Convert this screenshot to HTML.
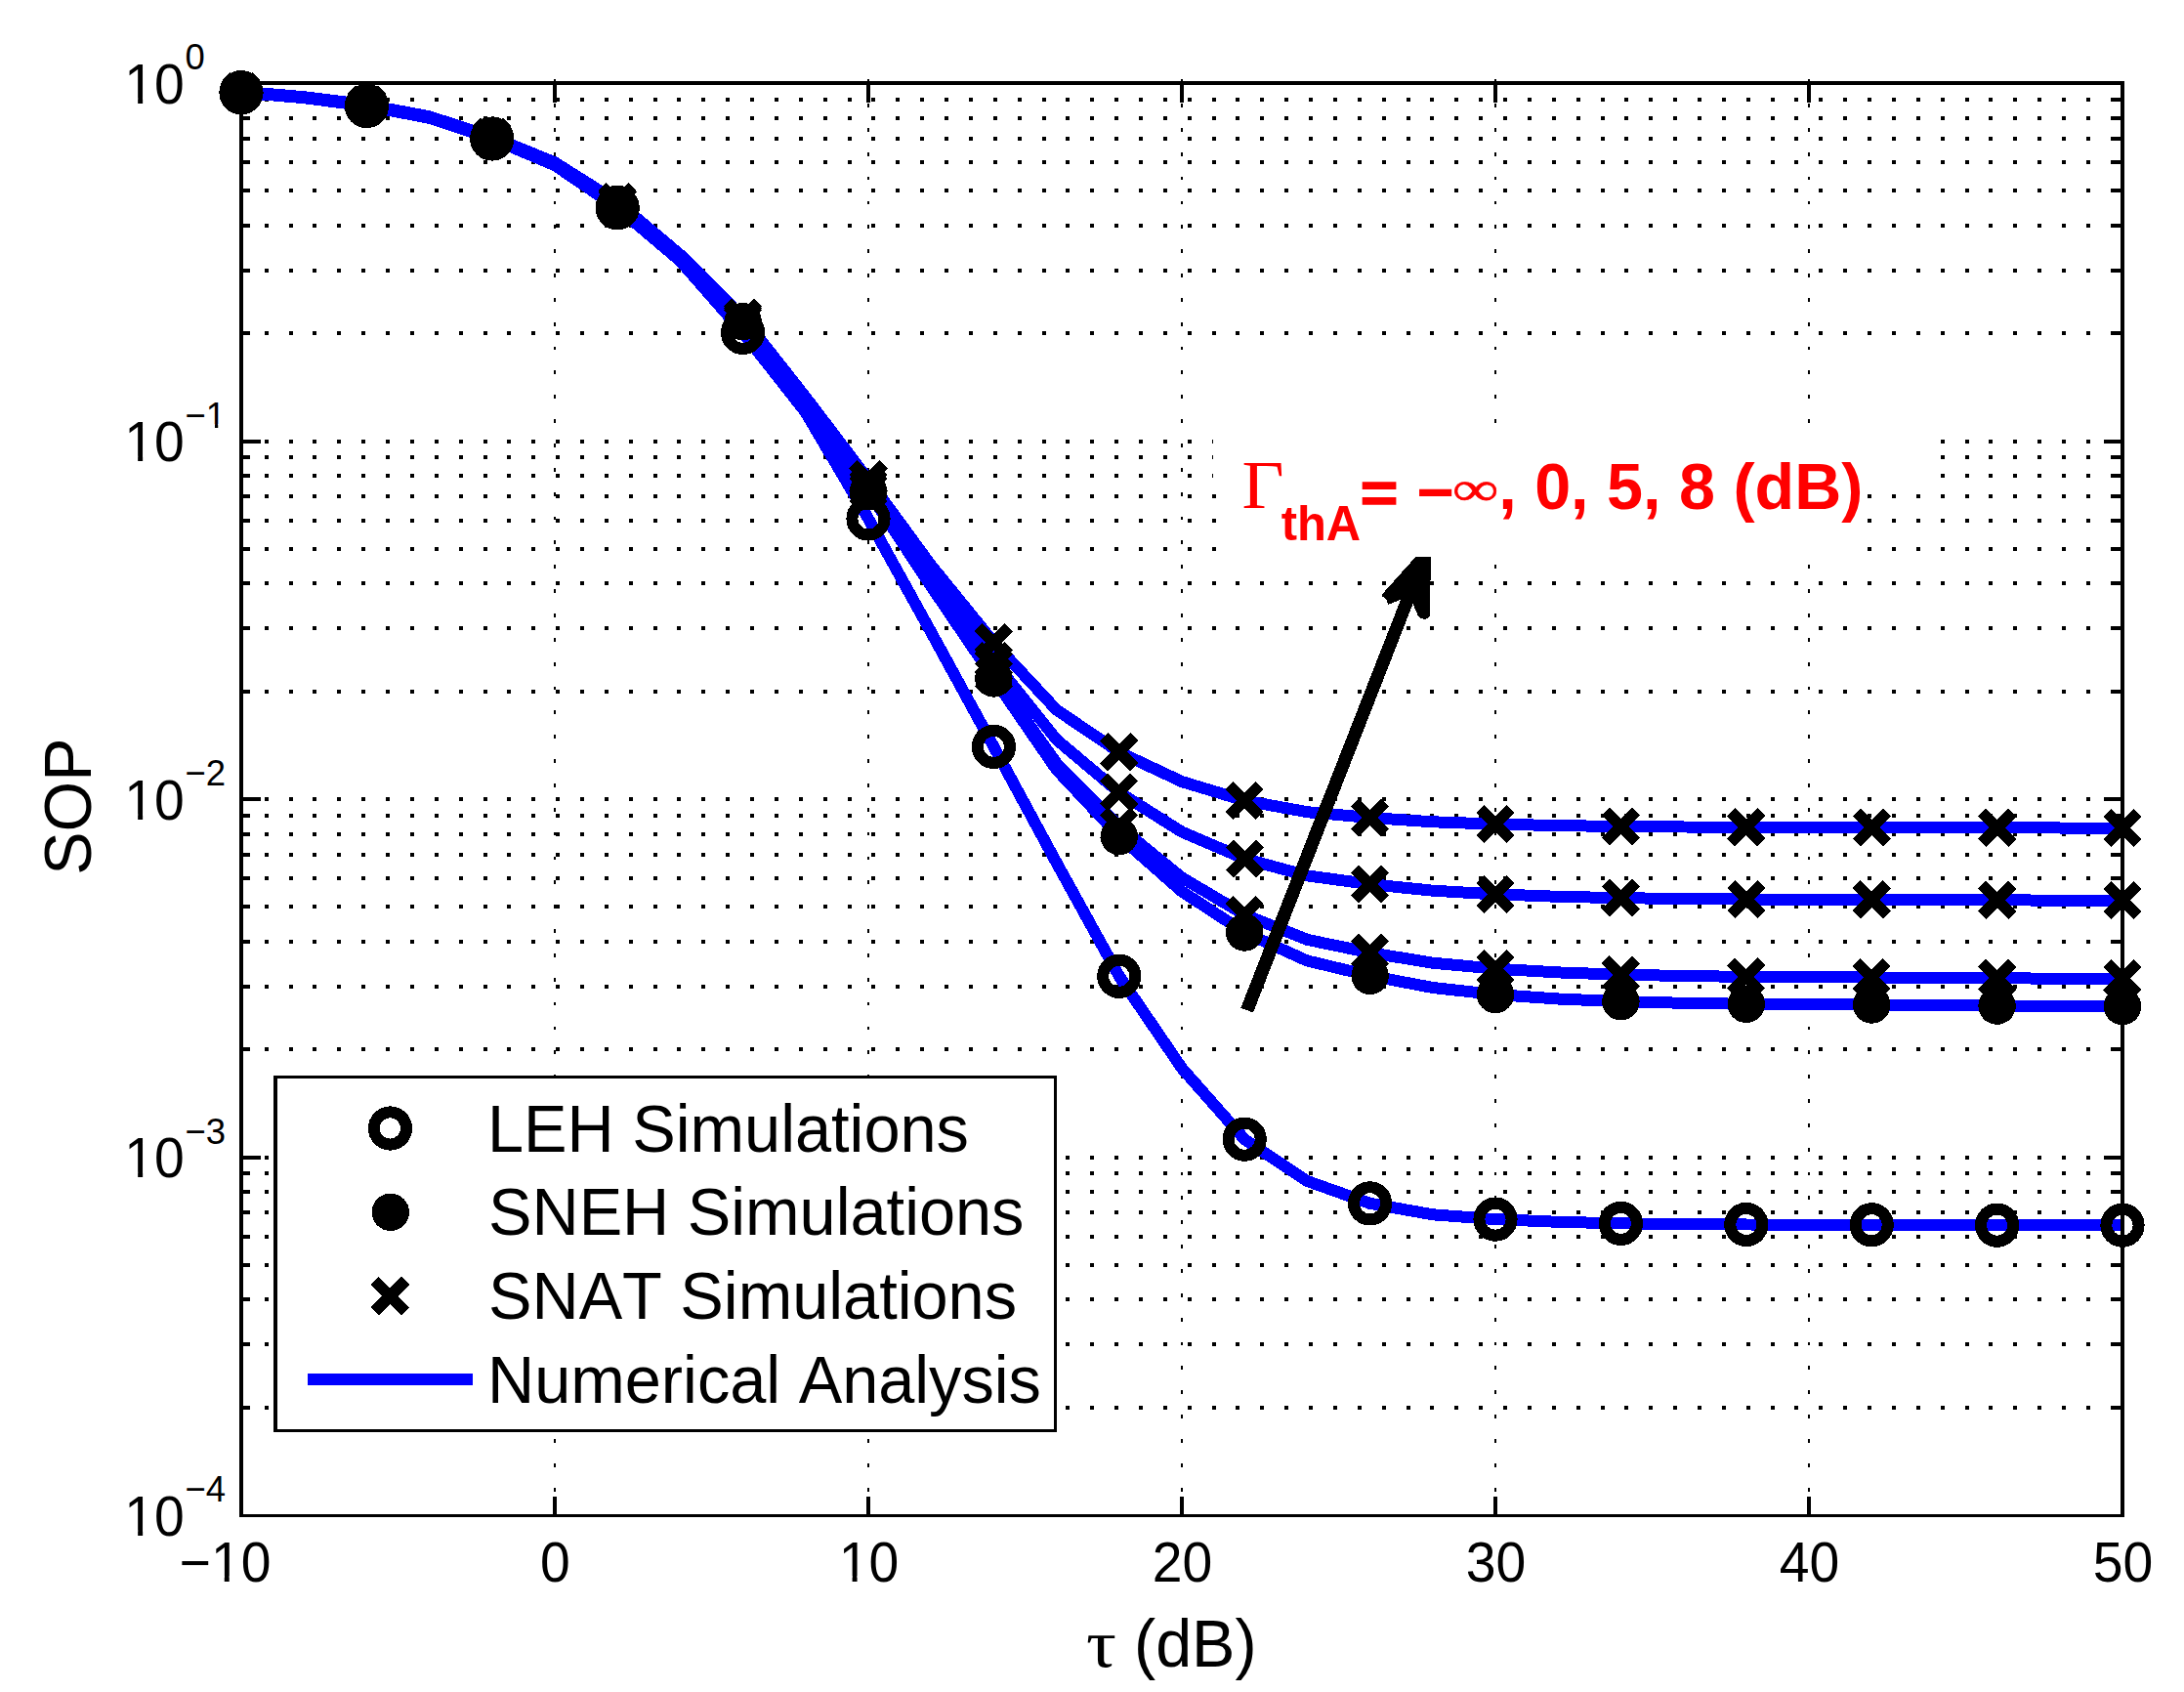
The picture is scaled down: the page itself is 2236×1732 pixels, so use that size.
<!DOCTYPE html>
<html lang="en"><head><meta charset="utf-8"><title>SOP versus tau</title>
<style>html,body{margin:0;padding:0;background:#fff}svg{display:block}text{font-family:"Liberation Sans",Arial,Helvetica,sans-serif;fill:#000;font-kerning:none;font-variant-ligatures:none}.sy{font-family:"Liberation Serif","DejaVu Serif",serif}.r{fill:#f00}.b{font-weight:bold}</style></head><body>
<svg width="2236" height="1732" viewBox="0 0 2236 1732" shape-rendering="crispEdges">
<rect width="2236" height="1732" fill="#fff"/>
<g shape-rendering="crispEdges" stroke="#000" fill="none">
<path d="M245.80 1440.67H2173.00" stroke-width="4" stroke-dasharray="4 20.87"/>
<path d="M245.80 1376.14H2173.00" stroke-width="4" stroke-dasharray="4 20.87"/>
<path d="M245.80 1330.35H2173.00" stroke-width="4" stroke-dasharray="4 20.87"/>
<path d="M245.80 1294.83H2173.00" stroke-width="4" stroke-dasharray="4 20.87"/>
<path d="M245.80 1265.81H2173.00" stroke-width="4" stroke-dasharray="4 20.87"/>
<path d="M245.80 1241.27H2173.00" stroke-width="4" stroke-dasharray="4 20.87"/>
<path d="M245.80 1220.02H2173.00" stroke-width="4" stroke-dasharray="4 20.87"/>
<path d="M245.80 1201.27H2173.00" stroke-width="4" stroke-dasharray="4 20.87"/>
<path d="M245.80 1184.50H2173.00" stroke-width="4" stroke-dasharray="4 20.87"/>
<path d="M245.80 1074.17H2173.00" stroke-width="4" stroke-dasharray="4 20.87"/>
<path d="M245.80 1009.64H2173.00" stroke-width="4" stroke-dasharray="4 20.87"/>
<path d="M245.80 963.85H2173.00" stroke-width="4" stroke-dasharray="4 20.87"/>
<path d="M245.80 928.33H2173.00" stroke-width="4" stroke-dasharray="4 20.87"/>
<path d="M245.80 899.31H2173.00" stroke-width="4" stroke-dasharray="4 20.87"/>
<path d="M245.80 874.77H2173.00" stroke-width="4" stroke-dasharray="4 20.87"/>
<path d="M245.80 853.52H2173.00" stroke-width="4" stroke-dasharray="4 20.87"/>
<path d="M245.80 834.77H2173.00" stroke-width="4" stroke-dasharray="4 20.87"/>
<path d="M245.80 818.00H2173.00" stroke-width="4" stroke-dasharray="4 20.87"/>
<path d="M245.80 707.67H2173.00" stroke-width="4" stroke-dasharray="4 20.87"/>
<path d="M245.80 643.14H2173.00" stroke-width="4" stroke-dasharray="4 20.87"/>
<path d="M245.80 597.35H2173.00" stroke-width="4" stroke-dasharray="4 20.87"/>
<path d="M245.80 561.83H2173.00" stroke-width="4" stroke-dasharray="4 20.87"/>
<path d="M245.80 532.81H2173.00" stroke-width="4" stroke-dasharray="4 20.87"/>
<path d="M245.80 508.27H2173.00" stroke-width="4" stroke-dasharray="4 20.87"/>
<path d="M245.80 487.02H2173.00" stroke-width="4" stroke-dasharray="4 20.87"/>
<path d="M245.80 468.27H2173.00" stroke-width="4" stroke-dasharray="4 20.87"/>
<path d="M245.80 451.50H2173.00" stroke-width="4" stroke-dasharray="4 20.87"/>
<path d="M245.80 341.17H2173.00" stroke-width="4" stroke-dasharray="4 20.87"/>
<path d="M245.80 276.64H2173.00" stroke-width="4" stroke-dasharray="4 20.87"/>
<path d="M245.80 230.85H2173.00" stroke-width="4" stroke-dasharray="4 20.87"/>
<path d="M245.80 195.33H2173.00" stroke-width="4" stroke-dasharray="4 20.87"/>
<path d="M245.80 166.31H2173.00" stroke-width="4" stroke-dasharray="4 20.87"/>
<path d="M245.80 141.77H2173.00" stroke-width="4" stroke-dasharray="4 20.87"/>
<path d="M245.80 120.52H2173.00" stroke-width="4" stroke-dasharray="4 20.87"/>
<path d="M245.80 101.77H2173.00" stroke-width="4" stroke-dasharray="4 20.87"/>
<path d="M568.00 81.25V1551.00" stroke-width="2" stroke-dasharray="3.8 21.053"/>
<path d="M889.00 81.25V1551.00" stroke-width="2" stroke-dasharray="3.8 21.053"/>
<path d="M1210.00 81.25V1551.00" stroke-width="2" stroke-dasharray="3.8 21.053"/>
<path d="M1531.00 81.25V1551.00" stroke-width="2" stroke-dasharray="3.8 21.053"/>
<path d="M1852.00 81.25V1551.00" stroke-width="2" stroke-dasharray="3.8 21.053"/>
</g>
<rect x="1242" y="441" width="734" height="57" fill="#fff"/>
<rect x="1255" y="497" width="653" height="70" fill="#fff"/>
<g fill="none" stroke="#00f" stroke-width="12" stroke-linejoin="round" stroke-linecap="butt">
<polyline points="247.0,94.7 311.2,100.2 375.4,108.5 439.6,120.8 503.8,142.0 568.0,169.2 632.2,212.7 696.4,267.0 760.6,340.4 824.8,422.0 889.0,531.0 953.2,647.0 1017.4,764.4 1081.6,883.0 1145.8,999.3 1210.0,1093.4 1274.2,1166.2 1338.4,1209.0 1402.6,1231.9 1466.8,1243.3 1531.0,1248.1 1595.2,1250.8 1659.4,1252.4 1723.6,1253.1 1787.8,1253.5 1852.0,1253.7 1916.2,1253.8 1980.4,1254.0 2044.6,1254.2 2108.8,1254.2 2173.0,1254.2"/>
<polyline points="247.0,94.7 311.2,100.2 375.4,108.3 439.6,120.4 503.8,141.5 568.0,167.8 632.2,208.7 696.4,263.5 760.6,329.2 824.8,413.6 889.0,503.0 953.2,600.0 1017.4,694.5 1081.6,787.7 1145.8,856.2 1210.0,912.5 1274.2,954.5 1338.4,983.5 1402.6,998.8 1466.8,1011.0 1531.0,1018.0 1595.2,1022.5 1659.4,1025.2 1723.6,1026.8 1787.8,1027.8 1852.0,1028.2 1916.2,1028.5 1980.4,1029.0 2044.6,1029.6 2108.8,1029.9 2173.0,1030.2"/>
<polyline points="247.0,94.6 311.2,100.1 375.4,108.2 439.6,120.3 503.8,141.4 568.0,167.7 632.2,208.5 696.4,263.2 760.6,328.8 824.8,413.0 889.0,501.9 953.2,597.9 1017.4,690.8 1081.6,781.1 1145.8,846.1 1210.0,898.4 1274.2,936.3 1338.4,961.9 1402.6,975.2 1466.8,985.7 1531.0,991.6 1595.2,995.4 1659.4,997.7 1723.6,999.0 1787.8,999.9 1852.0,1000.2 1916.2,1000.5 1980.4,1000.9 2044.6,1001.4 2108.8,1001.6 2173.0,1001.9"/>
<polyline points="247.0,94.3 311.2,99.7 375.4,107.8 439.6,119.9 503.8,140.9 568.0,167.1 632.2,207.8 696.4,262.2 760.6,327.3 824.8,410.4 889.0,497.4 953.2,589.9 1017.4,676.7 1081.6,757.0 1145.8,811.1 1210.0,851.6 1274.2,879.0 1338.4,896.4 1402.6,905.1 1466.8,911.7 1531.0,915.4 1595.2,917.8 1659.4,919.2 1723.6,920.0 1787.8,920.5 1852.0,920.7 1916.2,920.8 1980.4,921.1 2044.6,921.4 2108.8,921.6 2173.0,921.7"/>
<polyline points="247.0,93.7 311.2,99.2 375.4,107.3 439.6,119.3 503.8,140.2 568.0,166.3 632.2,206.8 696.4,260.8 760.6,325.1 824.8,406.6 889.0,491.0 953.2,578.6 1017.4,657.6 1081.6,726.6 1145.8,769.9 1210.0,800.1 1274.2,819.5 1338.4,831.2 1402.6,837.0 1466.8,841.3 1531.0,843.6 1595.2,845.1 1659.4,846.0 1723.6,846.5 1787.8,846.8 1852.0,847.0 1916.2,847.1 1980.4,847.2 2044.6,847.4 2108.8,847.5 2173.0,847.6"/>
</g>
<g shape-rendering="crispEdges" stroke="#000" fill="none">
<path d="M245.0 85.0H2175.0M247.0 85.0V1552.5M2173.0 85.0V1552.5" stroke-width="4"/>
<path d="M245.0 1551.5H2175.0" stroke-width="3"/>
<path d="M568.00 1551.0v-19.5M568.00 85.0v19.5M889.00 1551.0v-19.5M889.00 85.0v19.5M1210.00 1551.0v-19.5M1210.00 85.0v19.5M1531.00 1551.0v-19.5M1531.00 85.0v19.5M1852.00 1551.0v-19.5M1852.00 85.0v19.5M247.0 1440.67h9.2M2173.0 1440.67h-9.2M247.0 1376.14h9.2M2173.0 1376.14h-9.2M247.0 1330.35h9.2M2173.0 1330.35h-9.2M247.0 1294.83h9.2M2173.0 1294.83h-9.2M247.0 1265.81h9.2M2173.0 1265.81h-9.2M247.0 1241.27h9.2M2173.0 1241.27h-9.2M247.0 1220.02h9.2M2173.0 1220.02h-9.2M247.0 1201.27h9.2M2173.0 1201.27h-9.2M247.0 1184.50h19.5M2173.0 1184.50h-19.5M247.0 1074.17h9.2M2173.0 1074.17h-9.2M247.0 1009.64h9.2M2173.0 1009.64h-9.2M247.0 963.85h9.2M2173.0 963.85h-9.2M247.0 928.33h9.2M2173.0 928.33h-9.2M247.0 899.31h9.2M2173.0 899.31h-9.2M247.0 874.77h9.2M2173.0 874.77h-9.2M247.0 853.52h9.2M2173.0 853.52h-9.2M247.0 834.77h9.2M2173.0 834.77h-9.2M247.0 818.00h19.5M2173.0 818.00h-19.5M247.0 707.67h9.2M2173.0 707.67h-9.2M247.0 643.14h9.2M2173.0 643.14h-9.2M247.0 597.35h9.2M2173.0 597.35h-9.2M247.0 561.83h9.2M2173.0 561.83h-9.2M247.0 532.81h9.2M2173.0 532.81h-9.2M247.0 508.27h9.2M2173.0 508.27h-9.2M247.0 487.02h9.2M2173.0 487.02h-9.2M247.0 468.27h9.2M2173.0 468.27h-9.2M247.0 451.50h19.5M2173.0 451.50h-19.5M247.0 341.17h9.2M2173.0 341.17h-9.2M247.0 276.64h9.2M2173.0 276.64h-9.2M247.0 230.85h9.2M2173.0 230.85h-9.2M247.0 195.33h9.2M2173.0 195.33h-9.2M247.0 166.31h9.2M2173.0 166.31h-9.2M247.0 141.77h9.2M2173.0 141.77h-9.2M247.0 120.52h9.2M2173.0 120.52h-9.2M247.0 101.77h9.2M2173.0 101.77h-9.2" stroke-width="4"/>
</g>
<g stroke="#000" fill="none">
<circle cx="247.0" cy="94.7" r="16.6" stroke-width="12"/>
<circle cx="375.4" cy="108.5" r="16.6" stroke-width="12"/>
<circle cx="503.8" cy="142.0" r="16.6" stroke-width="12"/>
<circle cx="632.2" cy="212.7" r="16.6" stroke-width="12"/>
<circle cx="760.6" cy="340.4" r="16.6" stroke-width="12"/>
<circle cx="889.0" cy="531.0" r="16.6" stroke-width="12"/>
<circle cx="1017.4" cy="764.4" r="16.6" stroke-width="12"/>
<circle cx="1145.8" cy="999.3" r="16.6" stroke-width="12"/>
<circle cx="1274.2" cy="1166.2" r="16.6" stroke-width="12"/>
<circle cx="1402.6" cy="1231.9" r="16.6" stroke-width="12"/>
<circle cx="1531.0" cy="1248.1" r="16.6" stroke-width="12"/>
<circle cx="1659.4" cy="1252.4" r="16.6" stroke-width="12"/>
<circle cx="1787.8" cy="1253.5" r="16.6" stroke-width="12"/>
<circle cx="1916.2" cy="1253.8" r="16.6" stroke-width="12"/>
<circle cx="2044.6" cy="1254.2" r="16.6" stroke-width="12"/>
<circle cx="2173.0" cy="1254.2" r="16.6" stroke-width="12"/>
</g>
<g fill="#000" stroke="none">
<circle cx="247.0" cy="94.7" r="19.2"/>
<circle cx="375.4" cy="108.3" r="19.2"/>
<circle cx="503.8" cy="141.5" r="19.2"/>
<circle cx="632.2" cy="208.7" r="19.2"/>
<circle cx="760.6" cy="329.2" r="19.2"/>
<circle cx="889.0" cy="503.0" r="19.2"/>
<circle cx="1017.4" cy="694.5" r="19.2"/>
<circle cx="1145.8" cy="856.2" r="19.2"/>
<circle cx="1274.2" cy="954.5" r="19.2"/>
<circle cx="1402.6" cy="998.8" r="19.2"/>
<circle cx="1531.0" cy="1018.0" r="19.2"/>
<circle cx="1659.4" cy="1025.2" r="19.2"/>
<circle cx="1787.8" cy="1027.8" r="19.2"/>
<circle cx="1916.2" cy="1028.5" r="19.2"/>
<circle cx="2044.6" cy="1029.6" r="19.2"/>
<circle cx="2173.0" cy="1030.2" r="19.2"/>
</g>
<g stroke="#000" stroke-width="11.4" fill="none">
<path d="M231.45 79.06l31.1 31.1M231.45 110.16l31.1 -31.1M359.85 92.66l31.1 31.1M359.85 123.76l31.1 -31.1M488.25 125.83l31.1 31.1M488.25 156.93l31.1 -31.1M616.65 192.97l31.1 31.1M616.65 224.07l31.1 -31.1M745.05 313.27l31.1 31.1M745.05 344.37l31.1 -31.1M873.45 486.33l31.1 31.1M873.45 517.43l31.1 -31.1M1001.85 675.24l31.1 31.1M1001.85 706.34l31.1 -31.1M1130.25 830.59l31.1 31.1M1130.25 861.69l31.1 -31.1M1258.65 920.78l31.1 31.1M1258.65 951.88l31.1 -31.1M1387.05 959.66l31.1 31.1M1387.05 990.76l31.1 -31.1M1515.45 976.07l31.1 31.1M1515.45 1007.17l31.1 -31.1M1643.85 982.15l31.1 31.1M1643.85 1013.25l31.1 -31.1M1772.25 984.34l31.1 31.1M1772.25 1015.44l31.1 -31.1M1900.65 984.93l31.1 31.1M1900.65 1016.03l31.1 -31.1M2029.05 985.85l31.1 31.1M2029.05 1016.95l31.1 -31.1M2157.45 986.35l31.1 31.1M2157.45 1017.45l31.1 -31.1M231.45 78.71l31.1 31.1M231.45 109.81l31.1 -31.1M359.85 92.28l31.1 31.1M359.85 123.38l31.1 -31.1M488.25 125.37l31.1 31.1M488.25 156.47l31.1 -31.1M616.65 192.26l31.1 31.1M616.65 223.36l31.1 -31.1M745.05 311.76l31.1 31.1M745.05 342.86l31.1 -31.1M873.45 481.88l31.1 31.1M873.45 512.98l31.1 -31.1M1001.85 661.11l31.1 31.1M1001.85 692.21l31.1 -31.1M1130.25 795.56l31.1 31.1M1130.25 826.66l31.1 -31.1M1258.65 863.42l31.1 31.1M1258.65 894.52l31.1 -31.1M1387.05 889.50l31.1 31.1M1387.05 920.60l31.1 -31.1M1515.45 899.87l31.1 31.1M1515.45 930.97l31.1 -31.1M1643.85 903.61l31.1 31.1M1643.85 934.71l31.1 -31.1M1772.25 904.94l31.1 31.1M1772.25 936.04l31.1 -31.1M1900.65 905.29l31.1 31.1M1900.65 936.39l31.1 -31.1M2029.05 905.85l31.1 31.1M2029.05 936.95l31.1 -31.1M2157.45 906.16l31.1 31.1M2157.45 937.26l31.1 -31.1M231.45 78.19l31.1 31.1M231.45 109.29l31.1 -31.1M359.85 91.71l31.1 31.1M359.85 122.81l31.1 -31.1M488.25 124.67l31.1 31.1M488.25 155.77l31.1 -31.1M616.65 191.20l31.1 31.1M616.65 222.30l31.1 -31.1M745.05 309.52l31.1 31.1M745.05 340.62l31.1 -31.1M873.45 475.45l31.1 31.1M873.45 506.55l31.1 -31.1M1001.85 642.06l31.1 31.1M1001.85 673.16l31.1 -31.1M1130.25 754.30l31.1 31.1M1130.25 785.40l31.1 -31.1M1258.65 803.92l31.1 31.1M1258.65 835.02l31.1 -31.1M1387.05 821.40l31.1 31.1M1387.05 852.50l31.1 -31.1M1515.45 828.09l31.1 31.1M1515.45 859.19l31.1 -31.1M1643.85 830.46l31.1 31.1M1643.85 861.56l31.1 -31.1M1772.25 831.30l31.1 31.1M1772.25 862.40l31.1 -31.1M1900.65 831.52l31.1 31.1M1900.65 862.62l31.1 -31.1M2029.05 831.87l31.1 31.1M2029.05 862.97l31.1 -31.1M2157.45 832.06l31.1 31.1M2157.45 863.16l31.1 -31.1"/>
</g>
<defs><clipPath id="k1"><path d="M0 -80H60V-9.4H0ZM25.05 -10H34.05V2H25.05Z"/></clipPath></defs>
<g transform="translate(553.12 1618.60) scale(1 1.025)" font-size="55.3"><text x="0.00" y="0">0</text></g>
<g transform="translate(858.74 1618.60) scale(1 1.025)" font-size="55.3"><g transform="translate(0.00 0) scale(0.5530)"><text font-size="100" clip-path="url(#k1)">1</text></g><text x="30.76" y="0">0</text></g>
<g transform="translate(1179.74 1618.60) scale(1 1.025)" font-size="55.3"><text x="0.00" y="0">20</text></g>
<g transform="translate(1500.74 1618.60) scale(1 1.025)" font-size="55.3"><text x="0.00" y="0">30</text></g>
<g transform="translate(1821.74 1618.60) scale(1 1.025)" font-size="55.3"><text x="0.00" y="0">40</text></g>
<g transform="translate(2142.74 1618.60) scale(1 1.025)" font-size="55.3"><text x="0.00" y="0">50</text></g>
<g transform="translate(183.60 1618.60) scale(1 1.025)" font-size="55.3"><text x="0.00" y="0">−</text><g transform="translate(32.29 0) scale(0.5530)"><text font-size="100" clip-path="url(#k1)">1</text></g><text x="63.05" y="0">0</text></g>
<g transform="translate(127.30 105.50) scale(1 1.025)" font-size="55.3"><g transform="translate(0.00 0) scale(0.5530)"><text font-size="100" clip-path="url(#k1)">1</text></g><text x="30.76" y="0">0</text></g>
<g transform="translate(189.50 71.30) scale(1 1.025)" font-size="36.5"><text x="0.00" y="0">0</text></g>
<g transform="translate(127.30 472.00) scale(1 1.025)" font-size="55.3"><g transform="translate(0.00 0) scale(0.5530)"><text font-size="100" clip-path="url(#k1)">1</text></g><text x="30.76" y="0">0</text></g>
<g transform="translate(189.50 437.80) scale(1 1.025)" font-size="36.5"><text x="0.00" y="0">−</text><g transform="translate(21.32 0) scale(0.3650)"><text font-size="100" clip-path="url(#k1)">1</text></g></g>
<g transform="translate(127.30 838.50) scale(1 1.025)" font-size="55.3"><g transform="translate(0.00 0) scale(0.5530)"><text font-size="100" clip-path="url(#k1)">1</text></g><text x="30.76" y="0">0</text></g>
<g transform="translate(189.50 804.30) scale(1 1.025)" font-size="36.5"><text x="0.00" y="0">−2</text></g>
<g transform="translate(127.30 1205.00) scale(1 1.025)" font-size="55.3"><g transform="translate(0.00 0) scale(0.5530)"><text font-size="100" clip-path="url(#k1)">1</text></g><text x="30.76" y="0">0</text></g>
<g transform="translate(189.50 1170.80) scale(1 1.025)" font-size="36.5"><text x="0.00" y="0">−3</text></g>
<g transform="translate(127.30 1571.50) scale(1 1.025)" font-size="55.3"><g transform="translate(0.00 0) scale(0.5530)"><text font-size="100" clip-path="url(#k1)">1</text></g><text x="30.76" y="0">0</text></g>
<g transform="translate(189.50 1537.30) scale(1 1.025)" font-size="36.5"><text x="0.00" y="0">−4</text></g>
<text class="sy" transform="translate(1112 1706) scale(1.1 1)" font-size="70">τ</text>
<text transform="translate(1161 1706) scale(1 1.03)" font-size="66.5">(dB)</text>
<text transform="translate(93.3 825.6) rotate(-90) scale(1 1.03)" text-anchor="middle" font-size="66.5">SOP</text>
<g class="r">
<text class="sy r" transform="translate(1271.5 520.3) scale(1.095 1.03)" font-size="68">Γ</text>
<text class="r b" transform="translate(1311.7 553) scale(0.978 1)" font-size="50">thA</text>
<text class="r b" transform="translate(1392.7 523.6) scale(1 0.86)" font-size="66" stroke="#f00" stroke-width="1.6">=</text>
<text class="r b" x="1450.3" y="526" font-size="66">−</text>
<text class="sy r" transform="translate(1487 516.8) scale(1 0.75)" font-size="66" stroke="#f00" stroke-width="0.8">∞</text>
<text class="r b" x="1534.2" y="521" font-size="66.5">, 0, 5, 8 (dB)</text>
</g>
<g fill="#000" stroke="none">
<path d="M1270.3 1031.7L1283 1036.6L1434.1 650L1446.5 618L1451.8 630.4Q1454 633.5 1458 633.9Q1462.5 633.5 1463.9 629.8L1463.9 594L1464.9 593.4L1464.9 570.1L1449.3 570.1L1414.9 608.5L1414.9 610.3L1419 613.2L1421.4 618.9L1434.1 613.8L1419.9 650Z"/>
</g>
<g shape-rendering="crispEdges">
<rect x="280" y="1101" width="802" height="365" fill="#000"/>
<rect x="284" y="1104" width="795" height="359" fill="#fff"/>
<path d="M314.8 1411.5H484" stroke="#00f" stroke-width="12" fill="none"/>
</g>
<circle cx="399.5" cy="1155" r="16.6" stroke="#000" stroke-width="12" fill="none"/>
<circle cx="399.8" cy="1240.8" r="19.2" fill="#000"/>
<path d="M383.6 1310.8l31.6 31.6M383.6 1342.4l31.6 -31.6" stroke="#000" stroke-width="11.4" fill="none"/>
<g font-size="66.7">
<text transform="translate(499 1179) scale(1 1.03)">LEH Simulations</text>
<text transform="translate(500 1264.3) scale(1 1.03)">SNEH Simulations</text>
<text transform="translate(500 1350.1) scale(1 1.03)">SNAT Simulations</text>
<text transform="translate(499 1435.9) scale(1 1.03)">Numerical Analysis</text>
</g>
</svg></body></html>
